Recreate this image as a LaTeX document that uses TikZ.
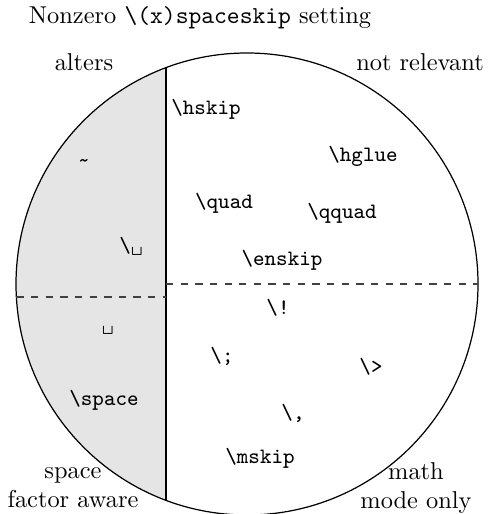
\documentclass[tikz,border=0pt]{standalone}
\usetikzlibrary{calc}
\begin{document}
\begin{tikzpicture}[x=0.41pt,y=-0.41pt,
  cmd/.style={font=\small\ttfamily, inner sep=0pt},
  lbl/.style={font=\normalsize, inner sep=0pt, align=center},
  divider/.style={dashed, black!75, line width=0.5pt}]
\useasboundingbox (0,0) rectangle (487,514);
\coordinate (C) at (247,284);
\coordinate (vt) at (166,67.7);
\coordinate (vb) at (166,500.3);
\coordinate (ll) at (16.4,297);
\coordinate (lm) at (166,297);
\coordinate (rm) at (166,284);
\coordinate (rr) at (478,284);
% gray left segment
\begin{scope}
  \clip (C) circle [radius=231];
  \fill[gray!20] (0,0) rectangle (166,520);
\end{scope}
\draw[line width=0.5pt] (C) circle [radius=231];
\draw[line width=0.5pt] (vt) -- (vb);
\draw[divider] (ll) -- (lm);
\draw[divider] (rm) -- (rr);
% labels
\node[lbl] (title) at (200,18) {Nonzero \texttt{\textbackslash(x)spaceskip} setting};
\node[lbl] (alters) at (84,62) {alters};
\node[lbl] (notrel) at (420,62) {not relevant};
\node[lbl] (sfa) at (73,488) {space\\factor aware};
\node[lbl] (mmo) at (416,488) {math\\mode only};
% commands
\node[cmd] (hskip) at (206,109) {\textbackslash hskip};
\node[cmd] (hglue) at (363,156) {\textbackslash hglue};
\node[cmd] (tilde) at (84,163) {\textasciitilde};
\node[cmd] (quad) at (224,203) {\textbackslash quad};
\node[cmd] (qquad) at (342,213) {\textbackslash qquad};
\node[cmd] (bsp) at (131,246) {\textbackslash\textvisiblespace};
\node[cmd] (enskip) at (282,260) {\textbackslash enskip};
\node[cmd] (neg) at (278,308) {\textbackslash!};
\node[cmd] (vsp) at (108,330) {\textvisiblespace};
\node[cmd] (thick) at (222,356) {\textbackslash;};
\node[cmd] (med) at (371,367) {\textbackslash>};
\node[cmd] (space) at (104,400) {\textbackslash space};
\node[cmd] (thin) at (293,413) {\textbackslash,};
\node[cmd] (mskip) at (260,458) {\textbackslash mskip};
\end{tikzpicture}
\end{document}
